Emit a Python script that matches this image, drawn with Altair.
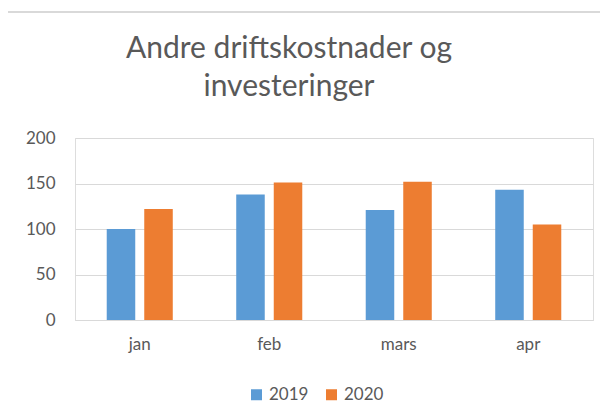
import altair as alt
import pandas as pd

months = ["jan", "feb", "mars", "apr"]
years = ["2019", "2020"]
values_2019 = [100, 138, 121, 143]
values_2020 = [122, 151, 152, 105]
title_lines = ["Andre driftskostnader og", "investeringer"]
y_ticks = [0, 50, 100, 150, 200]

rows = []
for m, a, b in zip(months, values_2019, values_2020):
    rows.append({"month": m, "year": "2019", "value": a})
    rows.append({"month": m, "year": "2020", "value": b})
df = pd.DataFrame(rows)
title_df = pd.DataFrame({"line": title_lines, "idx": [0, 1]})

FONT = "Lato"
GRAY = "#595959"
GRID = "#d9d9d9"

bars = alt.Chart(df).mark_bar().encode(
    x=alt.X("month:N", sort=months, title=None,
            scale=alt.Scale(paddingInner=0.49, paddingOuter=0.245),
            axis=alt.Axis(labelAngle=0, ticks=False, domain=True, domainColor=GRID,
                          labelFontSize=17, labelColor=GRAY, labelFont=FONT, labelPadding=16)),
    xOffset=alt.XOffset("year:N", sort=years, scale=alt.Scale(paddingInner=0.24)),
    y=alt.Y("value:Q", title=None,
            scale=alt.Scale(domain=[0, 200], nice=False),
            axis=alt.Axis(values=y_ticks, ticks=False, domain=False, gridColor=GRID,
                          labelFontSize=17, labelColor=GRAY, labelFont=FONT, labelPadding=20)),
    color=alt.Color("year:N", sort=years,
                    scale=alt.Scale(domain=years, range=["#5B9BD5", "#ED7D31"]),
                    legend=alt.Legend(title=None, orient="none", direction="horizontal",
                                      legendX=173, legendY=248, symbolType="square",
                                      symbolSize=121, labelFontSize=17, labelColor=GRAY,
                                      labelFont=FONT, labelOffset=4, columnPadding=14,
                                      symbolStrokeWidth=0)),
)

title = alt.Chart(title_df).mark_text(
    font=FONT, fontSize=30, color=GRAY, align="center", baseline="alphabetic"
).encode(
    text="line:N",
    x=alt.value(214),
    y=alt.Y("idx:Q", axis=None, scale=alt.Scale(domain=[0, 1], range=[-80, -42])),
)

frame_left = alt.Chart(df).mark_rule(color=GRID, strokeWidth=1.5).encode(
    x=alt.value(-68), y=alt.value(-126), y2=alt.value(300))
frame_top = alt.Chart(df).mark_rule(color=GRID, strokeWidth=1.5).encode(
    x=alt.value(-68), x2=alt.value(560), y=alt.value(-126))

chart = alt.layer(frame_left, frame_top, bars, title).resolve_scale(y="independent").properties(
    width=518, height=182,
    autosize=alt.AutoSizeParams(type="none"),
    padding={"left": 67, "top": 130, "right": 7, "bottom": 91},
).configure_view(stroke=None).configure(background="white")

chart.save("out.html", embed_options={"renderer": "svg", "actions": False})
